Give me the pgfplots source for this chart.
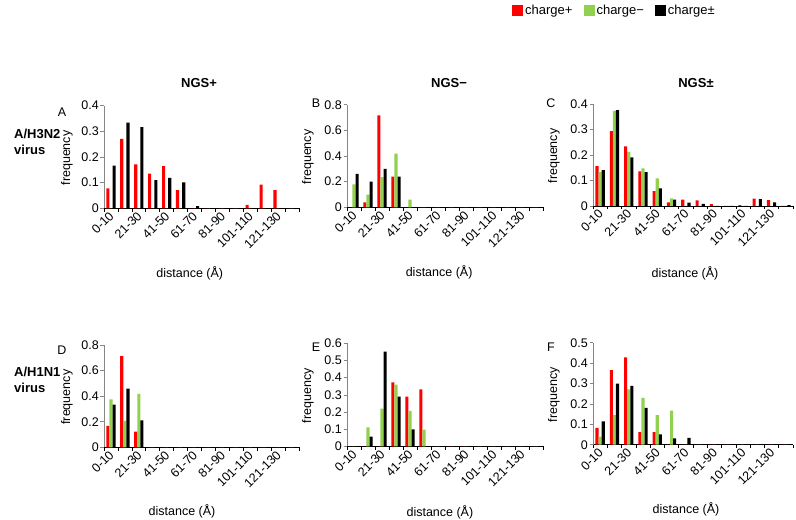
\documentclass[border=0pt]{standalone}
\usepackage{fontspec}
\setmainfont{Liberation Sans}
\usepackage{pgfplots}
\pgfplotsset{compat=1.18}
\usepackage{pgfplotstable}
\definecolor{cred}{HTML}{FF0000}
\definecolor{cgreen}{HTML}{92D050}
\definecolor{cblack}{HTML}{000000}
\definecolor{axgray}{HTML}{868686}

% columns: bin index, charge+, charge-, charge+-
\pgfplotstableread{
x r g b
0 0.078 0 0.166
1 0.271 0 0.334
2 0.171 0 0.316
3 0.135 0 0.110
4 0.164 0 0.119
5 0.071 0 0.101
6 0 0 0.008
7 0 0 0
8 0 0 0
9 0 0 0
10 0.013 0 0
11 0.092 0 0
12 0.071 0 0
13 0 0 0
}\dataA
\pgfplotstableread{
x r g b
0 0 0.179 0.260
1 0.039 0.099 0.200
2 0.717 0.236 0.299
3 0.239 0.418 0.239
4 0 0.060 0
5 0 0 0
6 0 0 0
7 0 0 0
8 0 0 0
9 0 0 0
10 0 0 0
11 0 0 0
12 0 0 0
13 0 0 0
}\dataB
\pgfplotstableread{
x r g b
0 0.156 0.133 0.141
1 0.294 0.373 0.376
2 0.234 0.212 0.191
3 0.136 0.148 0.133
4 0.058 0.108 0.069
5 0.014 0.030 0.025
6 0.025 0 0.013
7 0.022 0 0.008
8 0.007 0 0
9 0 0 0
10 0.003 0 0
11 0.029 0 0.027
12 0.023 0 0.014
13 0 0 0.003
}\dataC
\pgfplotstableread{
x r g b
0 0.167 0.375 0.334
1 0.714 0.206 0.459
2 0.122 0.417 0.211
3 0 0 0
4 0 0 0
5 0 0 0
6 0 0 0
7 0 0 0
8 0 0 0
9 0 0 0
10 0 0 0
11 0 0 0
12 0 0 0
13 0 0 0
}\dataD
\pgfplotstableread{
x r g b
0 0 0 0
1 0 0.110 0.056
2 0 0.220 0.551
3 0.373 0.360 0.290
4 0.290 0.207 0.099
5 0.331 0.097 0
6 0 0 0
7 0 0 0
8 0 0 0
9 0 0 0
10 0 0 0
11 0 0 0
12 0 0 0
13 0 0 0
}\dataE
\pgfplotstableread{
x r g b
0 0.083 0.039 0.114
1 0.366 0.145 0.300
2 0.428 0.271 0.288
3 0.062 0.229 0.180
4 0.062 0.145 0.051
5 0 0.167 0.031
6 0 0 0.034
7 0 0 0
8 0 0 0
9 0 0 0
10 0 0 0
11 0 0 0
12 0 0 0
13 0 0 0
}\dataF

\pgfplotsset{
  panel/.style={
    scale only axis, anchor=south west,
    ybar=0pt, bar width=3.1bp,
    xmin=-0.5, xmax=13.5, ymin=0,
    xtick={0,2,4,6,8,10,12},
    xticklabels={0-10,21-30,41-50,61-70,81-90,101-110,121-130},
    minor xtick={-0.5,0.5,...,13.5},
    major x tick style={draw=none},
    minor x tick style={black, line width=0.6bp},
    ytick style={axgray, line width=0.6bp},
    tick align=outside,
    major tick length=3.5bp, minor tick length=3.5bp,
    axis x line*=bottom, axis y line*=left,
    x axis line style={black, -, line width=0.9bp},
    y axis line style={axgray, -, line width=0.8bp},
    /pgf/number format/assume math mode=true,
    yticklabel style={/pgf/number format/fixed, /pgf/number format/precision=1, inner sep=1.5bp},
    xticklabel style={rotate=45, anchor=east, inner sep=1bp, yshift=-2bp},
    xlabel={distance (Å)}, ylabel={frequency},
    xlabel style={anchor=center},
    ylabel style={anchor=center},
    legend image code/.code={\fill[#1] (0bp,-5.5bp) rectangle (11bp,5.5bp);},
  }
}

\begin{document}
\begin{tikzpicture}[font=\fontsize{12.5bp}{15bp}\selectfont]
\useasboundingbox (0,0) rectangle (796bp,520bp);

% Panel A
\begin{axis}[panel, at={(104bp,311.7bp)}, width=195bp, height=102.6bp,
  ymax=0.4, ytick={0,0.1,0.2,0.3,0.4},
  xlabel style={at={(axis description cs:0.44,-0.63)}},
  ylabel style={at={(axis description cs:-0.19,0.49)}}]
\addplot[fill=cred, draw=none] table[x=x,y=r]{\dataA};
\addplot[fill=cgreen, draw=none] table[x=x,y=g]{\dataA};
\addplot[fill=cblack, draw=none] table[x=x,y=b]{\dataA};
\end{axis}

% Panel B
\begin{axis}[panel, at={(347bp,312.7bp)}, width=196bp, height=102.6bp,
  ymax=0.8, ytick={0,0.2,0.4,0.6,0.8},
  xlabel style={at={(axis description cs:0.47,-0.637)}},
  ylabel style={at={(axis description cs:-0.2,0.49)}}]
\addplot[fill=cred, draw=none] table[x=x,y=r]{\dataB};
\addplot[fill=cgreen, draw=none] table[x=x,y=g]{\dataB};
\addplot[fill=cblack, draw=none] table[x=x,y=b]{\dataB};
\end{axis}

% Panel C (with legend)
\begin{axis}[panel, at={(593bp,314bp)}, width=200bp, height=102bp,
  ymax=0.4, ytick={0,0.1,0.2,0.3,0.4},
  xlabel style={at={(axis description cs:0.46,-0.657)}},
  ylabel style={at={(axis description cs:-0.195,0.49)}},
  legend columns=3,
  legend style={at={(axis description cs:-0.405,1.99)}, anchor=north west,
    draw=none, fill=none, inner sep=0pt, font=\fontsize{13bp}{15bp}\selectfont,
    /tikz/every even column/.append style={column sep=9bp}},
  legend cell align=left]
\addplot[fill=cred, draw=none] table[x=x,y=r]{\dataC};
\addplot[fill=cgreen, draw=none] table[x=x,y=g]{\dataC};
\addplot[fill=cblack, draw=none] table[x=x,y=b]{\dataC};
\legend{charge+,charge−,charge±}
\end{axis}

% Panel D
\begin{axis}[panel, at={(104bp,72.7bp)}, width=195bp, height=102.3bp,
  ymax=0.8, ytick={0,0.2,0.4,0.6,0.8},
  xlabel style={at={(axis description cs:0.40,-0.627)}},
  ylabel style={at={(axis description cs:-0.19,0.49)}}]
\addplot[fill=cred, draw=none] table[x=x,y=r]{\dataD};
\addplot[fill=cgreen, draw=none] table[x=x,y=g]{\dataD};
\addplot[fill=cblack, draw=none] table[x=x,y=b]{\dataD};
\end{axis}

% Panel E
\begin{axis}[panel, at={(347bp,73.7bp)}, width=196bp, height=103bp,
  ymax=0.6, ytick={0,0.1,0.2,0.3,0.4,0.5,0.6},
  xlabel style={at={(axis description cs:0.474,-0.637)}},
  ylabel style={at={(axis description cs:-0.2,0.49)}}]
\addplot[fill=cred, draw=none] table[x=x,y=r]{\dataE};
\addplot[fill=cgreen, draw=none] table[x=x,y=g]{\dataE};
\addplot[fill=cblack, draw=none] table[x=x,y=b]{\dataE};
\end{axis}

% Panel F
\begin{axis}[panel, at={(593bp,75.3bp)}, width=200bp, height=102bp,
  ymax=0.5, ytick={0,0.1,0.2,0.3,0.4,0.5},
  xlabel style={at={(axis description cs:0.465,-0.637)}},
  ylabel style={at={(axis description cs:-0.195,0.49)}}]
\addplot[fill=cred, draw=none] table[x=x,y=r]{\dataF};
\addplot[fill=cgreen, draw=none] table[x=x,y=g]{\dataF};
\addplot[fill=cblack, draw=none] table[x=x,y=b]{\dataF};
\end{axis}

% column titles
\node[font=\fontsize{13bp}{15bp}\bfseries] at (199bp,437bp) {NGS+};
\node[font=\fontsize{13bp}{15bp}\bfseries] at (449bp,437bp) {NGS−};
\node[font=\fontsize{13bp}{15bp}\bfseries] at (696bp,437bp) {NGS±};
% panel letters
\node at (62bp,408bp) {A};
\node at (316bp,417bp) {B};
\node at (551bp,417bp) {C};
\node at (62bp,170bp) {D};
\node at (316bp,173bp) {E};
\node at (551bp,173bp) {F};
% row labels
\node[anchor=west, align=left, inner sep=0pt, font=\fontsize{13bp}{16.5bp}\bfseries] at (14bp,378bp) {A/H3N2\\virus};
\node[anchor=west, align=left, inner sep=0pt, font=\fontsize{13bp}{16.5bp}\bfseries] at (14bp,140bp) {A/H1N1\\virus};
\end{tikzpicture}
\end{document}
